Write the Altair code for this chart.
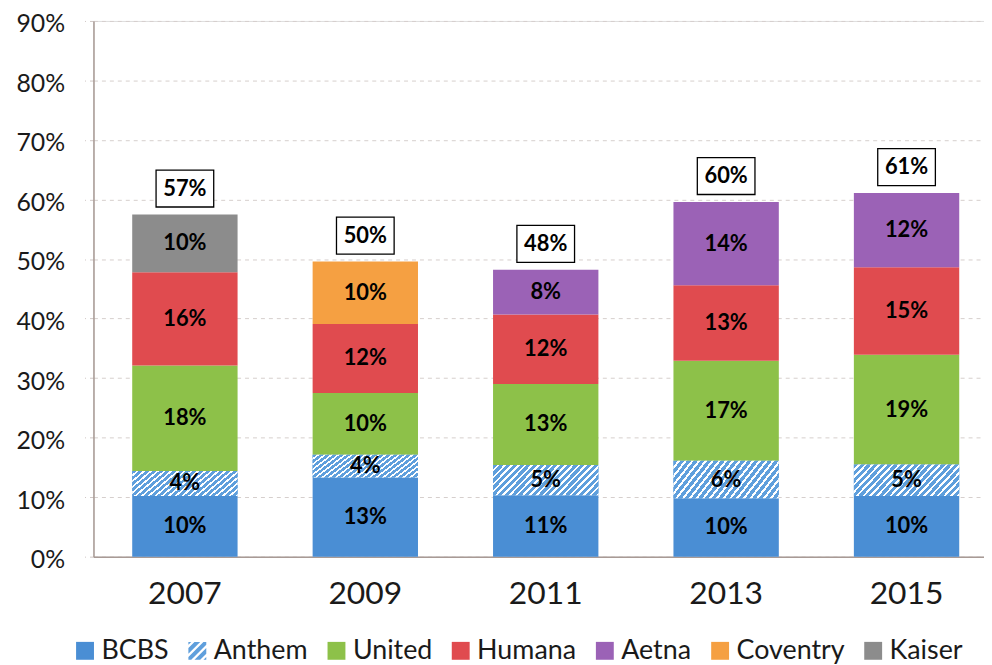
import altair as alt
import pandas as pd

# ---------------- data ----------------
years = ["2007", "2009", "2011", "2013", "2015"]
companies = ["BCBS", "Anthem", "United", "Humana", "Aetna", "Coventry", "Kaiser"]

bcbs = [10.2, 13.3, 10.3, 9.8, 10.2]
anthem = [4.2, 3.8, 5.1, 6.3, 5.3]
united = [17.7, 10.4, 13.6, 16.8, 18.4]
humana = [15.7, 11.6, 11.7, 12.7, 14.7]
aetna = [None, None, 7.5, 14.0, 12.5]
coventry = [None, 10.5, None, None, None]
kaiser = [9.7, None, None, None, None]

bcbs_lbl = [10, 13, 11, 10, 10]
anthem_lbl = [4, 4, 5, 6, 5]
united_lbl = [18, 10, 13, 17, 19]
humana_lbl = [16, 12, 12, 13, 15]
aetna_lbl = [None, None, 8, 14, 12]
coventry_lbl = [None, 10, None, None, None]
kaiser_lbl = [10, None, None, None, None]

totals = [57, 50, 48, 60, 61]
y_ticks = [0, 10, 20, 30, 40, 50, 60, 70, 80, 90]

colors = ["#4a8ed4", "#5f9fdc", "#8dc149", "#e04b4f", "#9b62b6", "#f5a042", "#8c8c8c"]

values = {"BCBS": bcbs, "Anthem": anthem, "United": united, "Humana": humana,
          "Aetna": aetna, "Coventry": coventry, "Kaiser": kaiser}
labels = {"BCBS": bcbs_lbl, "Anthem": anthem_lbl, "United": united_lbl, "Humana": humana_lbl,
          "Aetna": aetna_lbl, "Coventry": coventry_lbl, "Kaiser": kaiser_lbl}

rows = []
for i, yr in enumerate(years):
    base = 0.0
    for c in companies:
        v = values[c][i]
        if v is None:
            continue
        rows.append(dict(year=yr, company=c, start=base, end=base + v, mid=base + v / 2,
                         label=f"{labels[c][i]}%"))
        base += v
seg = pd.DataFrame(rows)
tops = seg.groupby("year")["end"].max().reindex(years).values
tot = pd.DataFrame(dict(year=years, top=tops, label=[f"{t}%" for t in totals]))

# ---------------- styling helpers ----------------
FONT = "Lato"


def clip(poly, a, b, c):
    # keep points with a*x + b*y <= c
    out = []
    n = len(poly)
    for i in range(n):
        p, q = poly[i], poly[(i + 1) % n]
        fp = a * p[0] + b * p[1] - c
        fq = a * q[0] + b * q[1] - c
        if fp <= 0:
            out.append(p)
        if (fp < 0 < fq) or (fq < 0 < fp):
            t = fp / (fp - fq)
            out.append((p[0] + t * (q[0] - p[0]), p[1] + t * (q[1] - p[1])))
    return out


square = [(-1, -1), (1, -1), (1, 1), (-1, 1)]
parts = []
for k in [-2, -1, 0, 1, 2]:
    poly = clip(square, 1, 1, k + 0.32)
    poly = clip(poly, -1, -1, -(k - 0.32))
    if len(poly) >= 3:
        parts.append("M" + "L".join(f"{x:.3f},{y:.3f}" for x, y in poly) + "Z")
hatch_path = "".join(parts)
shape_range = ["square", hatch_path, "square", "square", "square", "square", "square"]

n_periods = 20
stops = []
for k in range(n_periods):
    a = k / n_periods
    b = (k + 0.62) / n_periods
    c = (k + 1) / n_periods
    stops += [alt.GradientStop(offset=a, color="#5f9fdc"),
              alt.GradientStop(offset=b, color="#5f9fdc"),
              alt.GradientStop(offset=b, color="#ffffff"),
              alt.GradientStop(offset=c, color="#ffffff")]
hatch = alt.LinearGradient(gradient="linear", stops=stops, x1=0, y1=0, x2=1.187, y2=0.332)

xscale = alt.Scale(domain=years, paddingInner=0.416, paddingOuter=0.176, align=0.61)
yscale = alt.Scale(domain=[0, 90], nice=False)

x_enc = alt.X("year:N", scale=xscale, sort=years,
              axis=alt.Axis(title=None, labelAngle=0, labelFontSize=32, labelFont=FONT,
                            labelColor="#1a1a1a", ticks=False, labelPadding=22,
                            domainColor="#a89a95", domainWidth=1.5))
y_axis = alt.Axis(title=None, values=y_ticks, labelExpr="datum.value + '%'",
                  labelFontSize=25, labelFont=FONT, labelColor="#1a1a1a",
                  labelPadding=20, labelOffset=3, tickSize=9, tickColor="#cfc6c4",
                  tickDash=[4, 4], grid=True, gridColor="#d6cfcd", gridDash=[4, 4],
                  gridWidth=1, domainColor="#a89a95", domainWidth=1.5)

color_scale = alt.Scale(domain=companies, range=colors)
shape_scale = alt.Scale(domain=companies, range=shape_range)
leg = alt.Legend(orient="none", legendX=-22, legendY=620, direction="horizontal",
                 title=None, labelFontSize=27, labelFont=FONT, labelColor="#1a1a1a",
                 symbolSize=324, symbolStrokeWidth=0, columnPadding=15, labelOffset=3,
                 padding=0)

# hidden points (drawn first, covered by bars) carry the legend
legend_pts = alt.Chart(seg).mark_point(filled=True, opacity=1, size=20).encode(
    x=x_enc,
    y=alt.Y("mid:Q", scale=yscale, axis=y_axis),
    color=alt.Color("company:N", scale=color_scale, legend=leg),
    shape=alt.Shape("company:N", scale=shape_scale, legend=leg),
)

bars = alt.Chart(seg).mark_bar().encode(
    x=x_enc,
    y=alt.Y("start:Q", scale=yscale, axis=y_axis),
    y2="end:Q",
    color=alt.Color("company:N", scale=color_scale, legend=None),
)

hatched = alt.Chart(seg).transform_filter(alt.datum.company == "Anthem").mark_bar(
    color=hatch).encode(
    x=x_enc,
    y=alt.Y("start:Q", scale=yscale),
    y2="end:Q",
)

seg_text = alt.Chart(seg).mark_text(font=FONT, fontWeight="bold", fontSize=22,
                                    color="#000000", baseline="middle").encode(
    x=x_enc,
    y=alt.Y("mid:Q", scale=yscale),
    text="label:N",
)

box = alt.Chart(tot).mark_point(shape="M-1,-0.64L1,-0.64L1,0.64L-1,0.64Z", size=3364,
                                filled=True, fill="white", stroke="black",
                                strokeWidth=1.3, opacity=1, yOffset=-26).encode(
    x=x_enc,
    y=alt.Y("top:Q", scale=yscale),
)

tot_text = alt.Chart(tot).mark_text(font=FONT, fontWeight="bold", fontSize=22,
                                    color="#000000", baseline="middle", yOffset=-26).encode(
    x=x_enc,
    y=alt.Y("top:Q", scale=yscale),
    text="label:N",
)

chart = alt.layer(legend_pts, bars, hatched, seg_text, box, tot_text).properties(
    width=896, height=539,
    autosize=alt.AutoSizeParams(type="none"),
    padding={"left": 86, "top": 11, "right": 0, "bottom": 108},
).configure_view(stroke=None).configure(background="white")

chart.save("out.html", embed_options={"renderer": "svg", "actions": False})
